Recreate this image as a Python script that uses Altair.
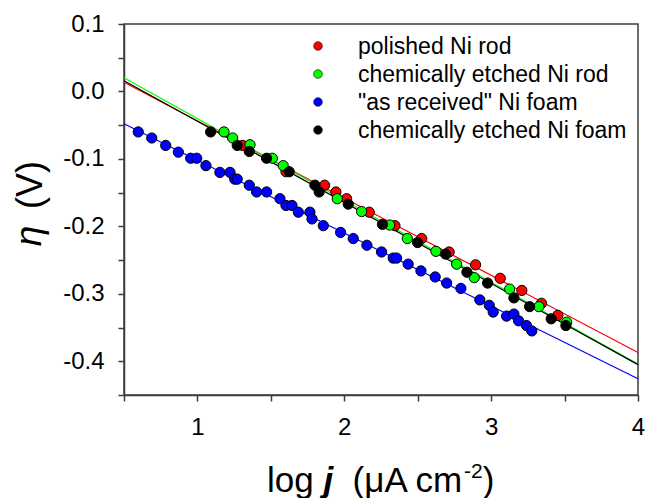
import altair as alt
import pandas as pd

FONT = "Liberation Sans"

series_names = ["polished Ni rod", "chemically etched Ni rod",
                '"as received" Ni foam', "chemically etched Ni foam"]
series_colors = ["#ff0000", "#00ff00", "#0000ff", "#000000"]

# measured points: log j, eta (V)
red_x = [1.308, 1.603, 1.866, 1.943, 2.016, 2.170, 2.345, 2.527, 2.714, 2.894, 3.062, 3.209, 3.343, 3.454]
red_y = [-0.080, -0.119, -0.139, -0.149, -0.159, -0.179, -0.199, -0.218, -0.238, -0.257, -0.277, -0.295, -0.314, -0.332]

green_x = [1.181, 1.240, 1.358, 1.510, 1.584, 1.952, 2.118, 2.309, 2.429, 2.624, 2.765, 2.885, 3.126, 3.325, 3.514]
green_y = [-0.060, -0.069, -0.079, -0.099, -0.110, -0.159, -0.178, -0.198, -0.218, -0.237, -0.256, -0.276, -0.293, -0.319, -0.342]

blue_x = [0.597, 0.689, 0.784, 0.870, 0.954, 0.995, 1.058, 1.153, 1.222, 1.254, 1.271, 1.353, 1.403, 1.471,
          1.562, 1.603, 1.644, 1.687, 1.766, 1.780, 1.857, 1.975, 2.061, 2.154, 2.254, 2.333, 2.356, 2.435,
          2.522, 2.619, 2.697, 2.794, 2.923, 2.987, 3.014, 3.105, 3.155, 3.187, 3.241, 3.277]
blue_y = [-0.060, -0.069, -0.080, -0.090, -0.099, -0.099, -0.110, -0.120, -0.120, -0.130, -0.130, -0.139, -0.149, -0.149,
          -0.159, -0.169, -0.169, -0.179, -0.179, -0.189, -0.199, -0.209, -0.218, -0.228, -0.238, -0.247, -0.247, -0.256,
          -0.266, -0.275, -0.284, -0.292, -0.309, -0.317, -0.327, -0.333, -0.330, -0.340, -0.347, -0.355]

black_x = [1.090, 1.271, 1.353, 1.471, 1.625, 1.800, 1.829, 2.027, 2.260, 2.499, 2.690, 2.835, 2.976, 3.155, 3.262, 3.409, 3.509]
black_y = [-0.060, -0.080, -0.089, -0.099, -0.119, -0.139, -0.149, -0.167, -0.197, -0.224, -0.241, -0.268, -0.284, -0.306, -0.319, -0.337, -0.347]

# fitted Tafel lines (end points)
fit_x = [0.5, 4.0]
fit_red = [0.0136, -0.387]
fit_green = [0.0204, -0.404]
fit_blue = [-0.048, -0.426]
fit_black = [0.0160, -0.405]

x_ticks = [0.5, 1.0, 1.5, 2.0, 2.5, 3.0, 3.5, 4.0]
y_ticks = [-0.45, -0.4, -0.35, -0.3, -0.25, -0.2, -0.15, -0.1, -0.05, 0.0, 0.05, 0.1]

AX = "#3c3c3c"

xenc = alt.X("x:Q", scale=alt.Scale(domain=[0.5, 4.0], nice=False, zero=False),
             axis=alt.Axis(values=x_ticks, title=None, grid=False,
                           labelExpr="abs(datum.value - round(datum.value)) < 0.01 ? format(datum.value, 'd') : ''",
                           labelFont=FONT, labelFontSize=24, labelColor="black",
                           tickSize=6, tickColor=AX, tickWidth=1.5, domainColor=AX, domainWidth=1.5,
                           labelPadding=14, labelFlush=False, labelOverlap=False))
yenc = alt.Y("y:Q", scale=alt.Scale(domain=[-0.45, 0.1], nice=False, zero=False),
             axis=alt.Axis(values=y_ticks, title=None, grid=False,
                           labelExpr="abs(datum.value*10 - round(datum.value*10)) < 0.01 ? ((datum.value < -0.001 ? '-' : '') + format(abs(datum.value), '.1f')) : ''",
                           labelFont=FONT, labelFontSize=24, labelColor="black",
                           tickSize=6, tickColor=AX, tickWidth=1.5, domainColor=AX, domainWidth=1.5,
                           labelPadding=14, labelFlush=False, labelOverlap=False))

layers = []
# fitted lines, one per series
for name, ys, col in zip(series_names, [fit_red, fit_green, fit_blue, fit_black], series_colors):
    df = pd.DataFrame({"x": fit_x, "y": ys})
    layers.append(alt.Chart(df).mark_line(strokeWidth=1.2, color=col).encode(x=xenc, y=yenc))

# data points, one layer per series
for name, xs, ys, col in zip(series_names, [red_x, green_x, blue_x, black_x],
                             [red_y, green_y, blue_y, black_y], series_colors):
    df = pd.DataFrame({"x": xs, "y": ys})
    layers.append(alt.Chart(df).mark_circle(size=105, opacity=1, fill=col, stroke="black",
                                            strokeWidth=1).encode(x=xenc, y=yenc))

anchor = pd.DataFrame({"k": [0]})

# legend (inside the plot, upper right)
LEG_SYM_X, LEG_TXT_X, LEG_Y0, LEG_DY = 318, 358, 46, 28
for i, (name, col) in enumerate(zip(series_names, series_colors)):
    yy = LEG_Y0 + i * LEG_DY
    layers.append(alt.Chart(anchor).mark_circle(size=75, opacity=1, fill=col, stroke="black",
                                                strokeWidth=0.6).encode(
        x=alt.value(LEG_SYM_X - 124), y=alt.value(yy - 24)))
    layers.append(alt.Chart(anchor).mark_text(
        text=name, align="left", baseline="middle", font=FONT, fontSize=23, color="black").encode(
        x=alt.value(LEG_TXT_X - 124), y=alt.value(yy - 24 + 1)))

# x axis title
TY = 492
title_parts = [
    ("log", 267, TY, 35, "normal", "normal"),
    ("j", 323.4, TY, 35, "bold", "italic"),
    ("(\u03bcA cm", 352.6, TY, 35, "normal", "normal"),
    ("-2", 464.1, TY - 14, 21, "normal", "normal"),
    (")", 482.8, TY, 35, "normal", "normal"),
]
for txt, px, py, fs, fw, fst in title_parts:
    layers.append(alt.Chart(anchor).mark_text(
        text=txt, align="left", baseline="alphabetic", font=FONT, fontSize=fs,
        fontWeight=fw, fontStyle=fst, color="black").encode(
        x=alt.value(px - 124), y=alt.value(py - 24)))

# y axis title
layers.append(alt.Chart(anchor).mark_text(
    text="\u03b7", align="center", baseline="middle", font=FONT, fontSize=37,
    fontStyle="italic", angle=270, color="black").encode(
    x=alt.value(30 - 124), y=alt.value(236 - 24)))
layers.append(alt.Chart(anchor).mark_text(
    text="(V)", align="center", baseline="middle", font=FONT, fontSize=36,
    angle=270, color="black").encode(
    x=alt.value(31 - 124), y=alt.value(185 - 24)))

chart = alt.layer(*layers).properties(
    width=514, height=371,
    autosize=alt.AutoSizeParams(type="none"),
    padding={"left": 124, "top": 24, "right": 8, "bottom": 103},
    background="white",
).configure_view(stroke=AX, strokeWidth=1.5)

chart.save("out.html", embed_options={"renderer": "svg", "actions": False})
